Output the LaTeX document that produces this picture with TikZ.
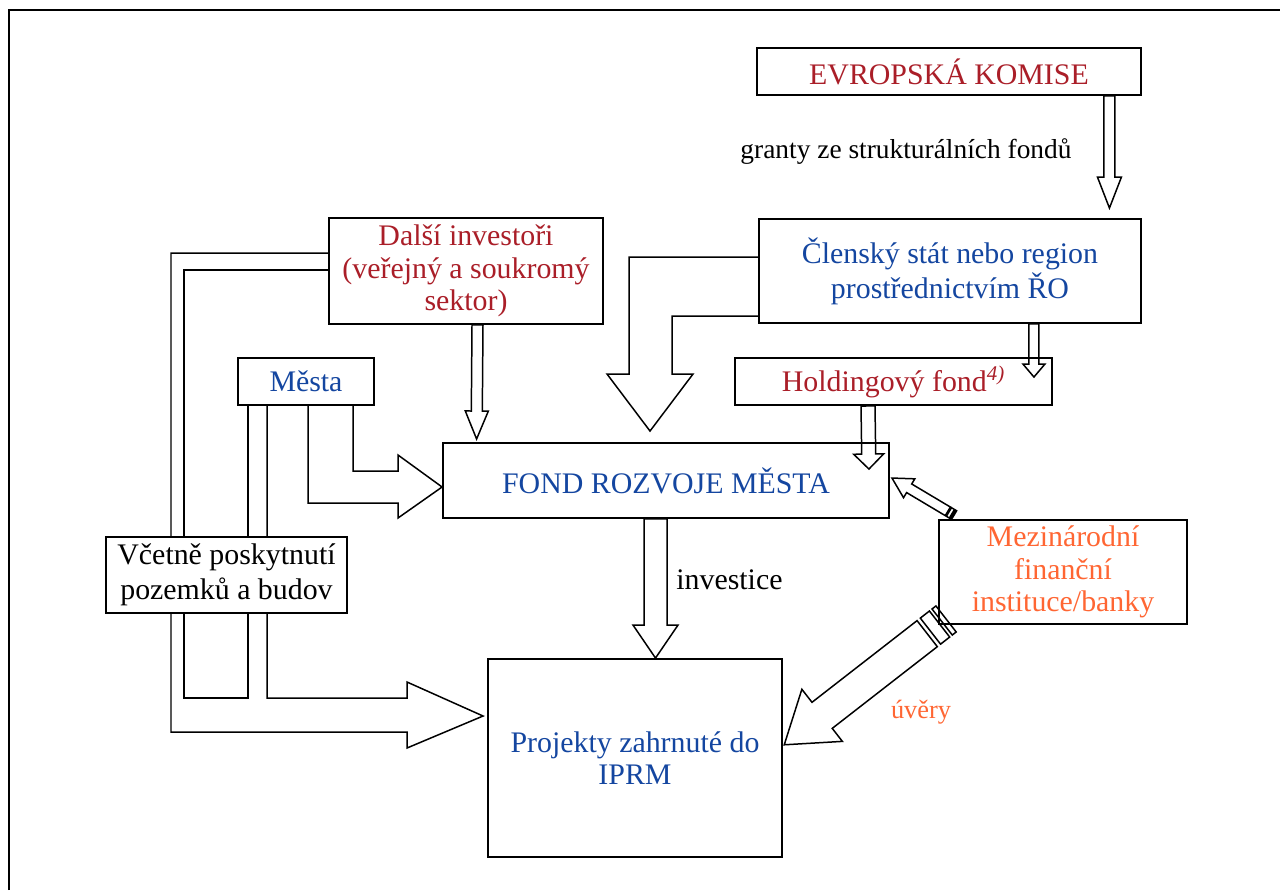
\documentclass[tikz,border=0pt]{standalone}
\usepackage{fontspec}
\setmainfont{Liberation Serif}
\usepackage{xcolor}
\usetikzlibrary{calc,positioning}

\definecolor{ekred}{RGB}{170,30,40}
\definecolor{ekblue}{RGB}{20,70,160}
\definecolor{ekorange}{RGB}{255,102,51}

\tikzset{
  box/.style={draw, line width=1.1pt, inner sep=0pt, align=center,
    font=\fontsize{17}{18.5}\selectfont},
  arrowline/.style={line width=0.85pt, line join=miter},
  label/.style={inner sep=0pt, font=\fontsize{17}{18.5}\selectfont},
}

% one pixel of the picture
\newcommand{\pxl}{0.569055pt}

% hollow block arrow: [tail gap]{tail}{tip}{shaft half width}{head half width}{head length}
\newcommand{\blockarrow}[6][0]{%
  \draw[arrowline] let \p1=(#2), \p2=(#3),
      \n1={atan2(\y2-\y1,\x2-\x1)}, \n2={veclen(\x2-\x1,\y2-\y1)} in
    [shift={(\p1)}, rotate=\n1]
    ({#1*\pxl},{#4*\pxl}) -- ({\n2-#6*\pxl},{#4*\pxl}) -- ({\n2-#6*\pxl},{#5*\pxl}) -- (\n2,0pt)
    -- ({\n2-#6*\pxl},{-#5*\pxl}) -- ({\n2-#6*\pxl},{-#4*\pxl}) -- ({#1*\pxl},{-#4*\pxl}) -- cycle;}

% same with two bands at the tail
\newcommand{\stripedarrow}[5]{%
  \draw[arrowline] let \p1=(#1), \p2=(#2), \n1={atan2(\y2-\y1,\x2-\x1)} in
    [shift={(\p1)}, rotate=\n1]
    (0,-#3) rectangle ({0.3*#3},#3)
    ({0.5*#3},-#3) rectangle ({1.2*#3},#3);
  \blockarrow[1.45*#3]{#1}{#2}{#3}{#4}{#5}}

\begin{document}
\begin{tikzpicture}[x=0.02cm, y=-0.02cm]
    \useasboundingbox (0,0) rectangle (1280,890);
    \draw[line width=1.1pt] (9,890) |- (1280,10);

    % boxes
    \node[box, text=ekred, minimum width=7.68cm, minimum height=0.94cm] (ek) at (949,71.5) {EVROPSKÁ KOMISE};
    \node[box, text=ekblue, minimum width=7.64cm, minimum height=2.08cm,
      font=\fontsize{17}{20}\selectfont] (clen) at (950,271) {Členský stát nebo region\\prostřednictvím ŘO};
    \node[box, text=ekred, minimum width=6.34cm, minimum height=0.94cm] (hold) at (893.5,381.5)
      {Holdingový fond\textsuperscript{\textit{4)}}};
    \node[box, text=ekred, minimum width=5.48cm, minimum height=2.12cm] (dalsi) at (466,271)
      {Další investoři\\(veřejný a soukromý\\sektor)};
    \node[box, text=ekblue, minimum width=2.72cm, minimum height=0.94cm] (mesta) at (306,381.5) {Města};
    \node[box, text=ekblue, minimum width=8.92cm, minimum height=1.5cm] (fond) at (666,480.5) {FOND ROZVOJE MĚSTA};
    \node[box, text=ekblue, minimum width=5.88cm, minimum height=3.96cm] (proj) at (635,758)
      {Projekty zahrnuté do\\IPRM};
    \node[box, text=ekorange, minimum width=4.96cm, minimum height=2.08cm] (mezi) at (1063,572)
      {Mezinárodní\\finanční\\instituce/banky};

    % labels
    \node[label, font=\fontsize{15.6}{18}\selectfont] (granty) at (906,152) {granty ze strukturálních fondů};
    \node[label, anchor=west] (inv) at (676,580) {investice};
    \node[label, text=ekorange, font=\fontsize{15}{18}\selectfont] (uvery) at (921,712) {úvěry};

    % straight arrows
    \blockarrow{$(ek.south east)+(-32.5,0)$}{$(clen.north east)+(-32.5,-10)$}{5.5}{12}{31}
    \blockarrow{$(clen.south east)+(-108,0)$}{$(hold.north east)+(-19,20)$}{5}{11}{13}
    \blockarrow{$(hold.south)+(-25.5,0)$}{$(fond.north east)+(-21,27)$}{7}{15}{15}
    \blockarrow{$(dalsi.south)+(11.5,0)$}{$(fond.north west)+(34.5,-3)$}{5.5}{11.5}{28}
    \blockarrow{$(fond.south)+(-10.5,0)$}{$(proj.north)+(20.5,0)$}{11.5}{22.5}{33}

    % Clensky stat -> fond
    \draw[arrowline] ($(clen.west)+(0,-14)$) -- (629,257) -- (629,374) -- (607,374)
      -- ($(fond.north)+(-16,-11)$) -- (693,374) -- (672,374) -- (672,316) -- ($(clen.west)+(0,45)$);

    % Mesta -> fond
    \draw[arrowline] ($(mesta.south)+(2,0)$) |- (398,503) -- (398,518) -- ($(fond.west)+(0,6.5)$)
      -- (398,455) -- (398,471) -| ($(mesta.south)+(47,0)$);

    % Dalsi investori + Mesta -> projekty
    \draw[arrowline] ($(dalsi.west)+(0,-18)$) -- (171,253) -- (171,732) -- (407,732) -- (407,748)
      -- ($(proj.west)+(-4,-42)$) -- (407,682) -- (407,698) -- (267,698) -- ($(mesta.south)+(-39,0)$);
    \draw[arrowline] ($(dalsi.west)+(0,-1)$) -- (184,270) -- (184,698) -- (248,698) -- ($(mesta.south)+(-58,0)$);

    \node[box, fill=white, minimum width=4.82cm, minimum height=1.52cm,
      font=\fontsize{17}{20}\selectfont] (vcetne) at (226.5,575) {Včetně poskytnutí\\pozemků a budov};

    % uvery
    \stripedarrow{$(mezi.north west)+(16,-4)$}{$(fond.east)+(2,-2.5)$}{5}{11}{20}
    \stripedarrow{$(mezi.south west)+(8,-6)$}{$(proj.east)+(1,-13)$}{16.5}{33}{48}
\end{tikzpicture}
\end{document}
